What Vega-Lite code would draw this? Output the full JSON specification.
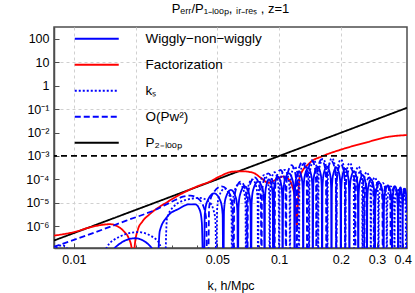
{
"$schema":"https://vega.github.io/schema/vega-lite/v6.json",
"width":353,"height":221,
"autosize":{"type":"none"},
"padding":{"left":54,"top":27,"right":8,"bottom":45},
"background":"white",
"title":{"text":"Pₑᵣᵣ/P₁₋ₗₒₒₚ, ᵢᵣ₋ᵣₑₛ , z=1","fontSize":13,"font":"Liberation Sans","fontWeight":"normal","color":"black","anchor":"middle","offset":11},
"config":{
 "view":{"stroke":"#4d4d4d","strokeWidth":1.5},
 "axis":{"labelFont":"Liberation Sans","titleFont":"Liberation Sans","labelFontSize":12.5,"titleFontSize":12.5,"titleFontWeight":"normal","labelColor":"black","titleColor":"black","domainColor":"#4d4d4d","domainWidth":1.5,"tickColor":"#4d4d4d","tickWidth":1,"gridDash":[3,3],"gridColor":"#d0d0d0"},
 "legend":{"orient":"none","legendX":20,"legendY":5,"title":null,"symbolType":"M-4,0L4,0","symbolSize":121,"symbolStrokeWidth":2,"symbolOffset":16,"labelOffset":42,"labelFontSize":13.5,"labelFont":"Liberation Sans","labelColor":"black","rowPadding":11,"padding":0,"labelLimit":0}
},
"datasets":{"c":[
{"s":"L","k":0.008,"v":2.4e-7},{"s":"L","k":0.05,"v":1.0e-4},{"s":"L","k":0.42,"v":0.114},
{"s":"F","k":0.008,"v":3.9e-7},{"s":"F","k":0.01,"v":5.5e-7},{"s":"F","k":0.0124,"v":9.5e-7},{"s":"F","k":0.015,"v":1.2e-6},{"s":"F","k":0.0162,"v":1.0e-6},{"s":"F","k":0.0175,"v":6e-7},{"s":"F","k":0.0185,"v":3e-7},{"s":"F","k":0.0191,"v":1.2e-7},{"s":"F","k":0.0194,"v":1e-9},{"s":"F","k":0.0198,"v":1.5e-7},{"s":"F","k":0.0205,"v":7e-7},{"s":"F","k":0.0215,"v":1.5e-6},{"s":"F","k":0.0235,"v":3.3e-6},{"s":"F","k":0.0287,"v":1.1e-5},{"s":"F","k":0.034,"v":2.6e-5},{"s":"F","k":0.04,"v":5e-5},{"s":"F","k":0.046,"v":8e-5},{"s":"F","k":0.052,"v":1.4e-4},{"s":"F","k":0.059,"v":2.1e-4},{"s":"F","k":0.066,"v":2.2e-4},{"s":"F","k":0.0747,"v":1.9e-4},{"s":"F","k":0.082,"v":1.1e-4},{"s":"F","k":0.0885,"v":7e-5},{"s":"F","k":0.095,"v":9e-5},{"s":"F","k":0.104,"v":1.3e-4},{"s":"F","k":0.11,"v":1.1e-4},{"s":"F","k":0.116,"v":5e-5},{"s":"F","k":0.12,"v":1e-5},{"s":"F","k":0.122,"v":1.1e-6},{"s":"F","k":0.1235,"v":1e-5},{"s":"F","k":0.126,"v":1.3e-4},{"s":"F","k":0.141,"v":5e-4},{"s":"F","k":0.164,"v":1e-3},{"s":"F","k":0.198,"v":1.8e-3},{"s":"F","k":0.27,"v":3.9e-3},{"s":"F","k":0.336,"v":6.4e-3},{"s":"F","k":0.42,"v":7.8e-3},
{"s":"W","k":0.0145,"v":1e-9},{"s":"W","k":0.01493,"v":3.75e-8},{"s":"W","k":0.01611,"v":1.35e-7},{"s":"W","k":0.01985,"v":3e-7},{"s":"W","k":0.0236,"v":1.35e-7},{"s":"W","k":0.02477,"v":3.75e-8},
{"s":"W","k":0.0252,"v":1e-9},{"s":"W","k":0.0262,"v":6e-7},{"s":"W","k":0.0285,"v":2.5e-6},{"s":"W","k":0.0325,"v":5.5e-6},{"s":"W","k":0.0365,"v":8.5e-6},{"s":"W","k":0.039,"v":8.5e-6},{"s":"W","k":0.041,"v":5e-6},{"s":"W","k":0.042,"v":1.5e-6},
{"s":"W","k":0.043,"v":1e-9},{"s":"W","k":0.04342,"v":3.1e-6},{"s":"W","k":0.04458,"v":1.1e-5},{"s":"W","k":0.04825,"v":2.5e-5},{"s":"W","k":0.05193,"v":1.1e-5},{"s":"W","k":0.05308,"v":3.1e-6},
{"s":"W","k":0.0535,"v":1e-9},{"s":"W","k":0.05388,"v":4.4e-6},{"s":"W","k":0.05493,"v":1.6e-5},{"s":"W","k":0.05825,"v":3.5e-5},{"s":"W","k":0.06158,"v":1.6e-5},{"s":"W","k":0.06262,"v":4.4e-6},
{"s":"W","k":0.063,"v":1e-9},{"s":"W","k":0.0634,"v":6.2e-6},{"s":"W","k":0.0645,"v":2.2e-5},{"s":"W","k":0.068,"v":5e-5},{"s":"W","k":0.0715,"v":2.2e-5},{"s":"W","k":0.0726,"v":6.2e-6},
{"s":"W","k":0.073,"v":1e-9},{"s":"W","k":0.07348,"v":1e-5},{"s":"W","k":0.0748,"v":3.6e-5},{"s":"W","k":0.079,"v":8e-5},{"s":"W","k":0.0832,"v":3.6e-5},{"s":"W","k":0.08452,"v":1e-5},
{"s":"W","k":0.085,"v":1e-9},{"s":"W","k":0.08534,"v":1.25e-5},{"s":"W","k":0.08628,"v":4.5e-5},{"s":"W","k":0.08925,"v":1e-4},{"s":"W","k":0.09223,"v":4.5e-5},{"s":"W","k":0.09316,"v":1.25e-5},
{"s":"W","k":0.0935,"v":1e-9},{"s":"W","k":0.09392,"v":1.6e-5},{"s":"W","k":0.09508,"v":5.8e-5},{"s":"W","k":0.09875,"v":1.3e-4},{"s":"W","k":0.10243,"v":5.8e-5},{"s":"W","k":0.10358,"v":1.6e-5},
{"s":"W","k":0.104,"v":1e-9},{"s":"W","k":0.1046,"v":2.2e-5},{"s":"W","k":0.10625,"v":8e-5},{"s":"W","k":0.1115,"v":1.8e-4},{"s":"W","k":0.11675,"v":8e-5},{"s":"W","k":0.1184,"v":2.2e-5},
{"s":"W","k":0.119,"v":1e-9},{"s":"W","k":0.11948,"v":2.75e-5},{"s":"W","k":0.1208,"v":1e-4},{"s":"W","k":0.125,"v":2.2e-4},{"s":"W","k":0.1292,"v":1e-4},{"s":"W","k":0.13052,"v":2.75e-5},
{"s":"W","k":0.131,"v":1e-9},{"s":"W","k":0.1316,"v":3.75e-5},{"s":"W","k":0.13325,"v":1.35e-4},{"s":"W","k":0.1385,"v":3e-4},{"s":"W","k":0.14375,"v":1.35e-4},{"s":"W","k":0.1454,"v":3.75e-5},
{"s":"W","k":0.146,"v":1e-9},{"s":"W","k":0.14664,"v":4.4e-5},{"s":"W","k":0.1484,"v":1.6e-4},{"s":"W","k":0.154,"v":3.5e-4},{"s":"W","k":0.1596,"v":1.6e-4},{"s":"W","k":0.16136,"v":4.4e-5},
{"s":"W","k":0.162,"v":1e-9},{"s":"W","k":0.16272,"v":4.4e-5},{"s":"W","k":0.1647,"v":1.6e-4},{"s":"W","k":0.171,"v":3.5e-4},{"s":"W","k":0.1773,"v":1.6e-4},{"s":"W","k":0.17928,"v":4.4e-5},
{"s":"W","k":0.18,"v":1e-9},{"s":"W","k":0.1808,"v":4e-5},{"s":"W","k":0.183,"v":1.45e-4},{"s":"W","k":0.19,"v":3.2e-4},{"s":"W","k":0.197,"v":1.45e-4},{"s":"W","k":0.1992,"v":4e-5},
{"s":"W","k":0.2,"v":1e-9},{"s":"W","k":0.2008,"v":3.5e-5},{"s":"W","k":0.203,"v":1.25e-4},{"s":"W","k":0.21,"v":2.8e-4},{"s":"W","k":0.217,"v":1.25e-4},{"s":"W","k":0.2192,"v":3.5e-5},
{"s":"W","k":0.22,"v":1e-9},{"s":"W","k":0.22092,"v":2.75e-5},{"s":"W","k":0.22345,"v":1e-4},{"s":"W","k":0.2315,"v":2.2e-4},{"s":"W","k":0.23955,"v":1e-4},{"s":"W","k":0.24208,"v":2.75e-5},
{"s":"W","k":0.243,"v":1e-9},{"s":"W","k":0.244,"v":1.9e-5},{"s":"W","k":0.24675,"v":6.8e-5},{"s":"W","k":0.2555,"v":1.5e-4},{"s":"W","k":0.26425,"v":6.8e-5},{"s":"W","k":0.267,"v":1.9e-5},
{"s":"W","k":0.268,"v":1e-9},{"s":"W","k":0.269,"v":1.25e-5},{"s":"W","k":0.27175,"v":4.5e-5},{"s":"W","k":0.2805,"v":1e-4},{"s":"W","k":0.28925,"v":4.5e-5},{"s":"W","k":0.292,"v":1.25e-5},
{"s":"W","k":0.293,"v":1e-9},{"s":"W","k":0.2942,"v":8.8e-6},{"s":"W","k":0.2975,"v":3.2e-5},{"s":"W","k":0.308,"v":7e-5},{"s":"W","k":0.3185,"v":3.2e-5},{"s":"W","k":0.3218,"v":8.8e-6},
{"s":"W","k":0.323,"v":1e-9},{"s":"W","k":0.32428,"v":6.9e-6},{"s":"W","k":0.3278,"v":2.5e-5},{"s":"W","k":0.339,"v":5.5e-5},{"s":"W","k":0.3502,"v":2.5e-5},{"s":"W","k":0.35372,"v":6.9e-6},
{"s":"W","k":0.355,"v":1e-9},{"s":"W","k":0.356,"v":6.2e-6},{"s":"W","k":0.35875,"v":2.2e-5},{"s":"W","k":0.3675,"v":5e-5},{"s":"W","k":0.37625,"v":2.2e-5},{"s":"W","k":0.379,"v":6.2e-6},
{"s":"W","k":0.38,"v":1e-9},{"s":"W","k":0.3808,"v":5.6e-6},{"s":"W","k":0.383,"v":2e-5},{"s":"W","k":0.39,"v":4.5e-5},{"s":"W","k":0.397,"v":2e-5},{"s":"W","k":0.3992,"v":5.6e-6},
{"s":"W","k":0.4,"v":1e-9},{"s":"W","k":0.4008,"v":5e-6},{"s":"W","k":0.403,"v":1.8e-5},{"s":"W","k":0.41,"v":4e-5},{"s":"W","k":0.417,"v":1.8e-5},{"s":"W","k":0.42,"v":6e-6},
{"s":"S","k":0.008,"v":8e-8},{"s":"S","k":0.0083,"v":1.3e-7},{"s":"S","k":0.00875,"v":1.5e-7},{"s":"S","k":0.0092,"v":1.2e-7},{"s":"S","k":0.0094,"v":5e-8},{"s":"S","k":0.0095,"v":1e-9},
{"s":"S","k":0.0135,"v":1e-9},{"s":"S","k":0.01406,"v":6.9e-8},{"s":"S","k":0.0156,"v":2.5e-7},{"s":"S","k":0.0205,"v":5.5e-7},{"s":"S","k":0.0254,"v":2.5e-7},{"s":"S","k":0.02694,"v":6.9e-8},
{"s":"S","k":0.0275,"v":1e-9},{"s":"S","k":0.0284,"v":2e-6},{"s":"S","k":0.0305,"v":6.5e-6},{"s":"S","k":0.035,"v":1.3e-5},{"s":"S","k":0.041,"v":1.6e-5},{"s":"S","k":0.0455,"v":1.1e-5},{"s":"S","k":0.0482,"v":4e-6},{"s":"S","k":0.049,"v":1.5e-6},
{"s":"S","k":0.0495,"v":1e-9},{"s":"S","k":0.04988,"v":5e-6},{"s":"S","k":0.05093,"v":1.8e-5},{"s":"S","k":0.05425,"v":4e-5},{"s":"S","k":0.05758,"v":1.8e-5},{"s":"S","k":0.05862,"v":5e-6},
{"s":"S","k":0.059,"v":1e-9},{"s":"S","k":0.0594,"v":8.1e-6},{"s":"S","k":0.0605,"v":2.9e-5},{"s":"S","k":0.064,"v":6.5e-5},{"s":"S","k":0.0675,"v":2.9e-5},{"s":"S","k":0.0686,"v":8.1e-6},
{"s":"S","k":0.069,"v":1e-9},{"s":"S","k":0.0694,"v":1.25e-5},{"s":"S","k":0.0705,"v":4.5e-5},{"s":"S","k":0.074,"v":1e-4},{"s":"S","k":0.0775,"v":4.5e-5},{"s":"S","k":0.0786,"v":1.25e-5},
{"s":"S","k":0.079,"v":1e-9},{"s":"S","k":0.07944,"v":1.9e-5},{"s":"S","k":0.08065,"v":6.8e-5},{"s":"S","k":0.0845,"v":1.5e-4},{"s":"S","k":0.08835,"v":6.8e-5},{"s":"S","k":0.08956,"v":1.9e-5},
{"s":"S","k":0.09,"v":1e-9},{"s":"S","k":0.0904,"v":2.5e-5},{"s":"S","k":0.0915,"v":9e-5},{"s":"S","k":0.095,"v":2e-4},{"s":"S","k":0.0985,"v":9e-5},{"s":"S","k":0.0996,"v":2.5e-5},
{"s":"S","k":0.1,"v":1e-9},{"s":"S","k":0.10052,"v":3.1e-5},{"s":"S","k":0.10195,"v":1.1e-4},{"s":"S","k":0.1065,"v":2.5e-4},{"s":"S","k":0.11105,"v":1.1e-4},{"s":"S","k":0.11248,"v":3.1e-5},
{"s":"S","k":0.113,"v":1e-9},{"s":"S","k":0.11348,"v":4.4e-5},{"s":"S","k":0.1148,"v":1.6e-4},{"s":"S","k":0.119,"v":3.5e-4},{"s":"S","k":0.1232,"v":1.6e-4},{"s":"S","k":0.12452,"v":4.4e-5},
{"s":"S","k":0.125,"v":1e-9},{"s":"S","k":0.1256,"v":6.2e-5},{"s":"S","k":0.12725,"v":2.2e-4},{"s":"S","k":0.1325,"v":5e-4},{"s":"S","k":0.13775,"v":2.2e-4},{"s":"S","k":0.1394,"v":6.2e-5},
{"s":"S","k":0.14,"v":1e-9},{"s":"S","k":0.1406,"v":8.1e-5},{"s":"S","k":0.14225,"v":2.9e-4},{"s":"S","k":0.1475,"v":6.5e-4},{"s":"S","k":0.15275,"v":2.9e-4},{"s":"S","k":0.1544,"v":8.1e-5},
{"s":"S","k":0.155,"v":1e-9},{"s":"S","k":0.15568,"v":9.4e-5},{"s":"S","k":0.15755,"v":3.4e-4},{"s":"S","k":0.1635,"v":7.5e-4},{"s":"S","k":0.16945,"v":3.4e-4},{"s":"S","k":0.17132,"v":9.4e-5},
{"s":"S","k":0.172,"v":1e-9},{"s":"S","k":0.17272,"v":1e-4},{"s":"S","k":0.1747,"v":3.6e-4},{"s":"S","k":0.181,"v":8e-4},{"s":"S","k":0.1873,"v":3.6e-4},{"s":"S","k":0.18928,"v":1e-4},
{"s":"S","k":0.19,"v":1e-9},{"s":"S","k":0.1908,"v":8.8e-5},{"s":"S","k":0.193,"v":3.2e-4},{"s":"S","k":0.2,"v":7e-4},{"s":"S","k":0.207,"v":3.2e-4},{"s":"S","k":0.2092,"v":8.8e-5},
{"s":"S","k":0.21,"v":1e-9},{"s":"S","k":0.21088,"v":6.2e-5},{"s":"S","k":0.2133,"v":2.2e-4},{"s":"S","k":0.221,"v":5e-4},{"s":"S","k":0.2287,"v":2.2e-4},{"s":"S","k":0.23112,"v":6.2e-5},
{"s":"S","k":0.232,"v":1e-9},{"s":"S","k":0.23292,"v":4.4e-5},{"s":"S","k":0.23545,"v":1.6e-4},{"s":"S","k":0.2435,"v":3.5e-4},{"s":"S","k":0.25155,"v":1.6e-4},{"s":"S","k":0.25408,"v":4.4e-5},
{"s":"S","k":0.255,"v":1e-9},{"s":"S","k":0.256,"v":2.5e-5},{"s":"S","k":0.25875,"v":9e-5},{"s":"S","k":0.2675,"v":2e-4},{"s":"S","k":0.27625,"v":9e-5},{"s":"S","k":0.279,"v":2.5e-5},
{"s":"S","k":0.28,"v":1e-9},{"s":"S","k":0.281,"v":1.5e-5},{"s":"S","k":0.28375,"v":5.4e-5},{"s":"S","k":0.2925,"v":1.2e-4},{"s":"S","k":0.30125,"v":5.4e-5},{"s":"S","k":0.304,"v":1.5e-5},
{"s":"S","k":0.305,"v":1e-9},{"s":"S","k":0.3062,"v":8.8e-6},{"s":"S","k":0.3095,"v":3.2e-5},{"s":"S","k":0.32,"v":7e-5},{"s":"S","k":0.3305,"v":3.2e-5},{"s":"S","k":0.3338,"v":8.8e-6},
{"s":"S","k":0.335,"v":1e-9},{"s":"S","k":0.3362,"v":6.2e-6},{"s":"S","k":0.3395,"v":2.2e-5},{"s":"S","k":0.35,"v":5e-5},{"s":"S","k":0.3605,"v":2.2e-5},{"s":"S","k":0.3638,"v":6.2e-6},
{"s":"S","k":0.365,"v":1e-9},{"s":"S","k":0.366,"v":5e-6},{"s":"S","k":0.36875,"v":1.8e-5},{"s":"S","k":0.3775,"v":4e-5},{"s":"S","k":0.38625,"v":1.8e-5},{"s":"S","k":0.389,"v":5e-6},
{"s":"S","k":0.39,"v":1e-9},{"s":"S","k":0.391,"v":3.75e-6},{"s":"S","k":0.39375,"v":1.35e-5},{"s":"S","k":0.4025,"v":3e-5},{"s":"S","k":0.41125,"v":1.35e-5},{"s":"S","k":0.414,"v":3.75e-6},{"s":"S","k":0.415,"v":1e-9},
{"s":"O","k":0.008,"v":1.3e-7},{"s":"O","k":0.012,"v":4.5e-7},{"s":"O","k":0.018,"v":1.7e-6},{"s":"O","k":0.025,"v":5e-6},{"s":"O","k":0.03,"v":1.1e-5},{"s":"O","k":0.034,"v":1.8e-5},{"s":"O","k":0.037,"v":2e-5},{"s":"O","k":0.04,"v":1.6e-5},{"s":"O","k":0.0425,"v":8e-6},{"s":"O","k":0.044,"v":2.5e-6},
{"s":"O","k":0.045,"v":1e-9},{"s":"O","k":0.0456,"v":6.2e-6},{"s":"O","k":0.04725,"v":2.2e-5},{"s":"O","k":0.0525,"v":5e-5},{"s":"O","k":0.05775,"v":2.2e-5},{"s":"O","k":0.0594,"v":6.2e-6},
{"s":"O","k":0.06,"v":1e-9},{"s":"O","k":0.0604,"v":1e-5},{"s":"O","k":0.0615,"v":3.6e-5},{"s":"O","k":0.065,"v":8e-5},{"s":"O","k":0.0685,"v":3.6e-5},{"s":"O","k":0.0696,"v":1e-5},
{"s":"O","k":0.07,"v":1e-9},{"s":"O","k":0.07048,"v":1.5e-5},{"s":"O","k":0.0718,"v":5.4e-5},{"s":"O","k":0.076,"v":1.2e-4},{"s":"O","k":0.0802,"v":5.4e-5},{"s":"O","k":0.08152,"v":1.5e-5},
{"s":"O","k":0.082,"v":1e-9},{"s":"O","k":0.08252,"v":2.25e-5},{"s":"O","k":0.08395,"v":8e-5},{"s":"O","k":0.0885,"v":1.8e-4},{"s":"O","k":0.09305,"v":8e-5},{"s":"O","k":0.09448,"v":2.25e-5},
{"s":"O","k":0.095,"v":1e-9},{"s":"O","k":0.09552,"v":3.1e-5},{"s":"O","k":0.09695,"v":1.1e-4},{"s":"O","k":0.1015,"v":2.5e-4},{"s":"O","k":0.10605,"v":1.1e-4},{"s":"O","k":0.10748,"v":3.1e-5},
{"s":"O","k":0.108,"v":1e-9},{"s":"O","k":0.10856,"v":5e-5},{"s":"O","k":0.1101,"v":1.8e-4},{"s":"O","k":0.115,"v":4e-4},{"s":"O","k":0.1199,"v":1.8e-4},{"s":"O","k":0.12144,"v":5e-5},
{"s":"O","k":0.122,"v":1e-9},{"s":"O","k":0.1226,"v":6.9e-5},{"s":"O","k":0.12425,"v":2.5e-4},{"s":"O","k":0.1295,"v":5.5e-4},{"s":"O","k":0.13475,"v":2.5e-4},{"s":"O","k":0.1364,"v":6.9e-5},
{"s":"O","k":0.137,"v":1e-9},{"s":"O","k":0.1376,"v":8.1e-5},{"s":"O","k":0.13925,"v":2.9e-4},{"s":"O","k":0.1445,"v":6.5e-4},{"s":"O","k":0.14975,"v":2.9e-4},{"s":"O","k":0.1514,"v":8.1e-5},
{"s":"O","k":0.152,"v":1e-9},{"s":"O","k":0.15272,"v":8.8e-5},{"s":"O","k":0.1547,"v":3.2e-4},{"s":"O","k":0.161,"v":7e-4},{"s":"O","k":0.1673,"v":3.2e-4},{"s":"O","k":0.16928,"v":8.8e-5},
{"s":"O","k":0.17,"v":1e-9},{"s":"O","k":0.1708,"v":7.5e-5},{"s":"O","k":0.173,"v":2.7e-4},{"s":"O","k":0.18,"v":6e-4},{"s":"O","k":0.187,"v":2.7e-4},{"s":"O","k":0.1892,"v":7.5e-5},
{"s":"O","k":0.19,"v":1e-9},{"s":"O","k":0.1908,"v":5.6e-5},{"s":"O","k":0.193,"v":2e-4},{"s":"O","k":0.2,"v":4.5e-4},{"s":"O","k":0.207,"v":2e-4},{"s":"O","k":0.2092,"v":5.6e-5},
{"s":"O","k":0.21,"v":1e-9},{"s":"O","k":0.211,"v":3.75e-5},{"s":"O","k":0.21375,"v":1.35e-4},{"s":"O","k":0.2225,"v":3e-4},{"s":"O","k":0.23125,"v":1.35e-4},{"s":"O","k":0.234,"v":3.75e-5},
{"s":"O","k":0.235,"v":1e-9},{"s":"O","k":0.236,"v":2.5e-5},{"s":"O","k":0.23875,"v":9e-5},{"s":"O","k":0.2475,"v":2e-4},{"s":"O","k":0.25625,"v":9e-5},{"s":"O","k":0.259,"v":2.5e-5},
{"s":"O","k":0.26,"v":1e-9},{"s":"O","k":0.2612,"v":1.5e-5},{"s":"O","k":0.2645,"v":5.4e-5},{"s":"O","k":0.275,"v":1.2e-4},{"s":"O","k":0.2855,"v":5.4e-5},{"s":"O","k":0.2888,"v":1.5e-5},
{"s":"O","k":0.29,"v":1e-9},{"s":"O","k":0.2912,"v":1e-5},{"s":"O","k":0.2945,"v":3.6e-5},{"s":"O","k":0.305,"v":8e-5},{"s":"O","k":0.3155,"v":3.6e-5},{"s":"O","k":0.3188,"v":1e-5},
{"s":"O","k":0.32,"v":1e-9},{"s":"O","k":0.3212,"v":7.5e-6},{"s":"O","k":0.3245,"v":2.7e-5},{"s":"O","k":0.335,"v":6e-5},{"s":"O","k":0.3455,"v":2.7e-5},{"s":"O","k":0.3488,"v":7.5e-6},
{"s":"O","k":0.35,"v":1e-9},{"s":"O","k":0.3512,"v":6.2e-6},{"s":"O","k":0.3545,"v":2.2e-5},{"s":"O","k":0.365,"v":5e-5},{"s":"O","k":0.3755,"v":2.2e-5},{"s":"O","k":0.3788,"v":6.2e-6},
{"s":"O","k":0.38,"v":1e-9},{"s":"O","k":0.3816,"v":5e-6},{"s":"O","k":0.386,"v":1.8e-5},{"s":"O","k":0.4,"v":4e-5},{"s":"O","k":0.414,"v":1.8e-5},{"s":"O","k":0.4184,"v":5e-6},{"s":"O","k":0.42,"v":1e-9}
]},
"layer":[
 {"data":{"name":"c"},
  "mark":{"type":"line","strokeWidth":1.8,"clip":true,"interpolate":"monotone"},
  "encoding":{
   "x":{"field":"k","type":"quantitative","scale":{"type":"log","domain":[0.008,0.42],"nice":false},
    "axis":{"values":[0.008,0.009,0.01,0.02,0.03,0.04,0.05,0.06,0.07,0.08,0.09,0.1,0.2,0.3,0.4],
     "labelExpr":"indexof([0.01,0.05,0.1,0.2,0.3,0.4], datum.value) >= 0 ? '' + datum.value : ''",
     "tickSize":{"condition":{"test":"indexof([0.01,0.05,0.1,0.2,0.3,0.4], datum.value) >= 0","value":-5},"value":-3},
     "grid":true,"gridOpacity":{"condition":{"test":"indexof([0.01,0.02,0.05,0.1,0.2], datum.value) >= 0","value":1},"value":0},
     "labelPadding":10,"title":"k, h/Mpc","titlePadding":12,"labelFlush":false,"labelOverlap":false}},
   "y":{"field":"v","type":"quantitative","scale":{"type":"log","domain":[1.15e-7,326],"nice":false},
    "axis":{"values":[100,10,1,0.1,0.01,0.001,0.0001,0.00001,0.000001],
     "labelExpr":"datum.value >= 1 ? '' + datum.value : '10⁻' + ['','¹','²','³','⁴','⁵','⁶'][round(-log(datum.value)/LN10)]",
     "tickSize":-5,"grid":true,"gridOpacity":{"condition":{"test":"indexof([10,0.1,0.00001], datum.value) >= 0","value":1},"value":0},
     "labelPadding":10,"title":null,"labelOverlap":false}},
   "color":{"field":"s","type":"nominal","scale":{"domain":["W","F","S","O","L"],"range":["#0000ff","#ff0000","#0000ff","#0000ff","#000000"]},
    "legend":{"labelExpr":"{'W':'Wiggly−non−wiggly','F':'Factorization','S':'kₛ','O':'O(Pw²)','L':'P₂₋ₗₒₒₚ'}[datum.label]"}},
   "strokeDash":{"field":"s","type":"nominal","scale":{"domain":["W","F","S","O","L"],"range":[[1,0],[1,0],[2,2],[6,3],[1,0]]},
    "legend":{"labelExpr":"{'W':'Wiggly−non−wiggly','F':'Factorization','S':'kₛ','O':'O(Pw²)','L':'P₂₋ₗₒₒₚ'}[datum.label]"}}
  }},
 {"data":{"values":[{}]},
  "mark":{"type":"rule","strokeDash":[6,4],"strokeWidth":1.8,"color":"black"},
  "encoding":{"y":{"datum":0.001}}}
]
}
